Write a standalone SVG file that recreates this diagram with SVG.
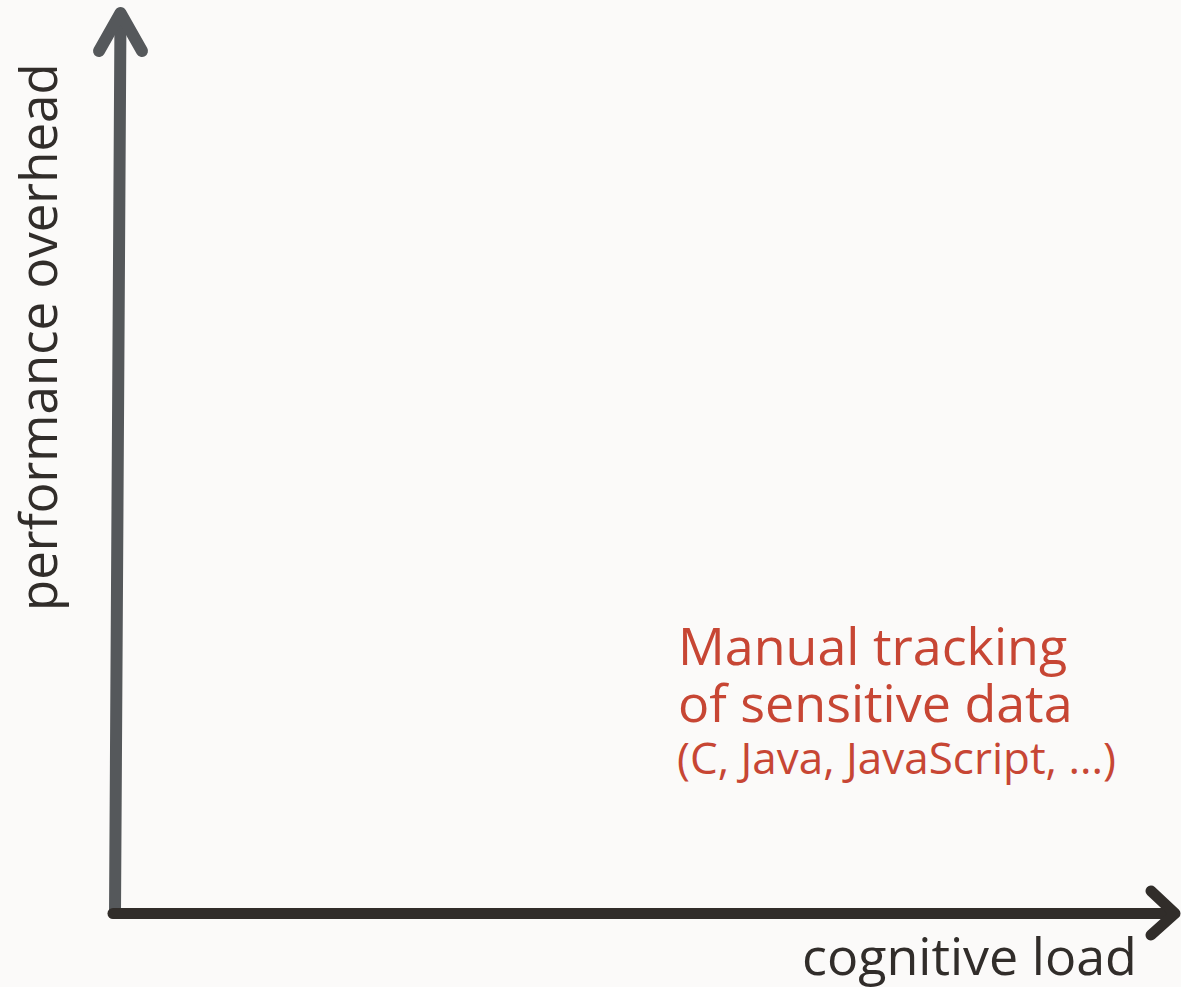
<svg xmlns="http://www.w3.org/2000/svg" width="1181" height="987" viewBox="0 0 1181 987">
<style>
.axisv{stroke:#55585b;stroke-width:12;fill:none;stroke-linecap:round;stroke-linejoin:round}
.axish{stroke:#312d2a;stroke-width:11;fill:none;stroke-linecap:round;stroke-linejoin:round}
.lbl{font-family:"Open Sans","Noto Sans",sans-serif;fill:#312d2a}
.red{font-family:"Open Sans","Noto Sans",sans-serif;fill:#c74634}
</style>
<rect width="1181" height="987" fill="#fbfaf9"/>
<g id="connectors">
<path class="axisv" d="M115 913 L120.5 14" stroke-linecap="butt"/>
<path class="axisv" d="M99 51 L120.5 13 L142 51"/>
<path class="axish" d="M113 913.5 L1174 913.5" stroke-linecap="butt"/>
<path class="axish" d="M1151 891 L1175 913.5 L1151 935"/>
</g>
<g id="y-label">
<text class="lbl" font-size="51" transform="translate(57,611) rotate(-90)">performance overhead</text>
</g>
<g id="x-label">
<text class="lbl" font-size="52" x="802" y="975">cognitive load</text>
</g>
<g id="manual-tracking">
<text class="red" font-size="52" x="678" y="665">Manual tracking</text>
<text class="red" font-size="52" x="678" y="722">of sensitive data</text>
<text class="red" font-size="44" x="677" y="774">(C, Java, JavaScript, ...)</text>
</g>
</svg>
